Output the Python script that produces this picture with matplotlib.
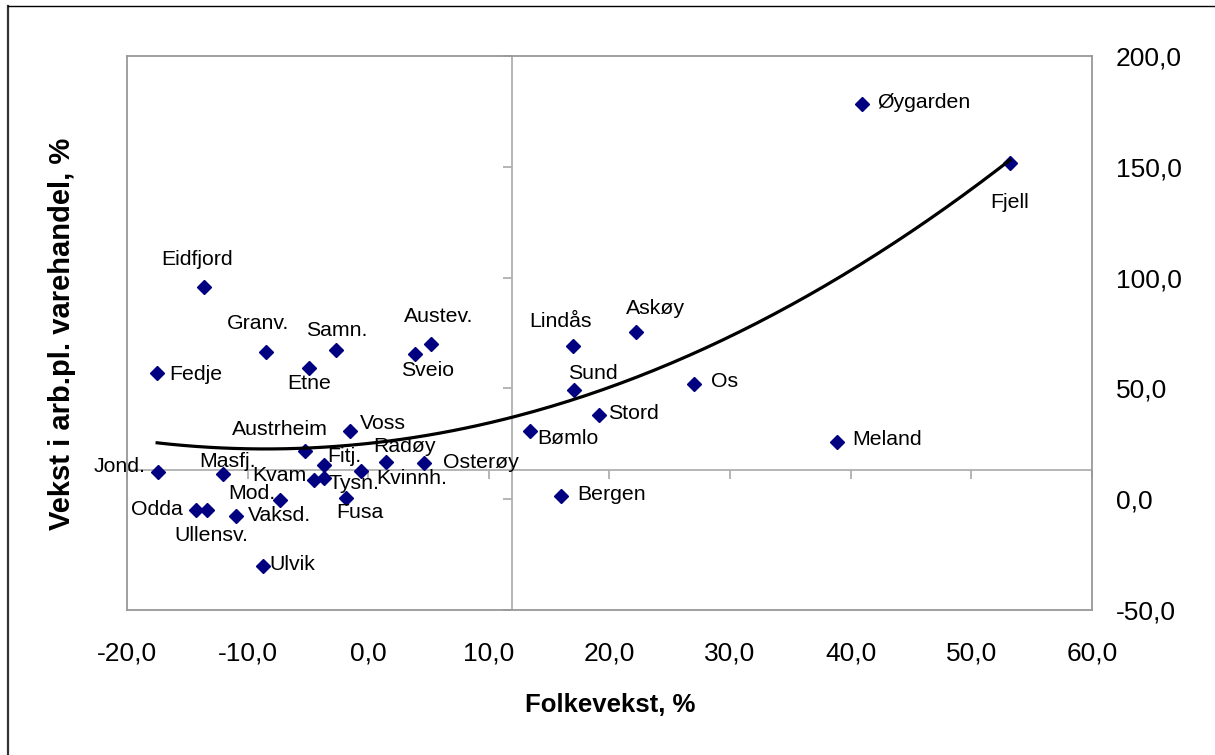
import numpy as np
import matplotlib
matplotlib.use('Agg')
import matplotlib.pyplot as plt
from matplotlib.lines import Line2D

plt.rcParams['font.family'] = ['Liberation Sans', 'DejaVu Sans']

# kommune, folkevekst (%), vekst i arb.pl. varehandel (%)
kommuner = ['Øygarden', 'Fjell', 'Eidfjord', 'Granv.', 'Samn.', 'Austev.', 'Sveio',
            'Etne', 'Fedje', 'Lindås', 'Askøy', 'Sund', 'Os', 'Stord', 'Bømlo',
            'Meland', 'Bergen', 'Voss', 'Austrheim', 'Fitj.', 'Radøy', 'Osterøy',
            'Kvinnh.', 'Jond.', 'Masfj.', 'Kvam', 'Tysn.', 'Mod.', 'Fusa', 'Odda',
            'Ullensv.', 'Vaksd.', 'Ulvik']
folkevekst = [40.9, 53.2, -13.6, -8.5, -2.7, 5.2, 3.9,
              -4.9, -17.5, 17.0, 22.2, 17.1, 27.0, 19.1, 13.4,
              38.9, 16.0, -1.5, -5.2, -3.7, 1.5, 4.6,
              -0.6, -17.4, -12.0, -4.5, -3.7, -7.3, -1.8, -14.3,
              -13.4, -11.0, -8.7]
varehandel = [178.1, 151.9, 95.8, 66.5, 67.4, 70.1, 65.7,
              59.2, 56.8, 69.2, 75.5, 49.3, 52.0, 38.0, 30.7,
              25.8, 1.4, 30.9, 21.7, 15.4, 16.9, 16.1,
              12.8, 12.2, 11.3, 8.7, 9.5, -0.3, 0.5, -5.0,
              -5.0, -7.5, -30.2]

x_ticks = [-20, -10, 0, 10, 20, 30, 40, 50, 60]
y_ticks = [-50, 0, 50, 100, 150, 200]
x_cross = 11.9   # where the vertical axis crosses
y_cross = 13.3   # where the horizontal axis crosses

# label placement in pixels from the point: (dx, dy, ha)
label_pos = {
    'Øygarden': (16, 2, 'left'), 'Fjell': (0, -40, 'center'),
    'Eidfjord': (-7, 27, 'center'), 'Granv.': (-8, 28, 'center'),
    'Samn.': (1, 19, 'center'), 'Austev.': (8, 27, 'center'),
    'Sveio': (12, -17, 'center'), 'Etne': (0, -16, 'center'),
    'Fedje': (12, -1, 'left'), 'Lindås': (-13, 24, 'center'),
    'Askøy': (19, 23, 'center'), 'Sund': (18, 16, 'center'),
    'Os': (17, 2, 'left'), 'Stord': (9, 1, 'left'),
    'Bømlo': (7, -7, 'left'), 'Meland': (15, 2, 'left'),
    'Bergen': (16, 2, 'left'), 'Voss': (10, 7, 'left'),
    'Austrheim': (-26, 22, 'center'), 'Fitj.': (4, 9, 'left'),
    'Radøy': (18, 15, 'center'), 'Osterøy': (19, 1, 'left'),
    'Kvinnh.': (15, -8, 'left'), 'Jond.': (-13, 6, 'right'),
    'Masfj.': (4, 13, 'center'), 'Kvam': (-7, 4, 'right'),
    'Tysn.': (5, -5, 'left'), 'Mod.': (-5, 6, 'right'),
    'Fusa': (13, -14, 'center'), 'Odda': (-13, 1, 'right'),
    'Ullensv.': (5, -25, 'center'), 'Vaksd.': (12, 0, 'left'),
    'Ulvik': (6, 2, 'left'),
}

fig = plt.figure(figsize=(12.15, 7.55), dpi=100)
ax = fig.add_axes([0.1045, 0.1921, 0.7942, 0.7338])
ax.set_xlim(-20, 60)
ax.set_ylim(-50, 200)

ax.set_xticks(x_ticks)
ax.set_xticklabels([f'{v:.1f}'.replace('.', ',') for v in x_ticks])
ax.set_yticks(y_ticks)
ax.set_yticklabels([f'{v:.1f}'.replace('.', ',') for v in y_ticks])
ax.yaxis.tick_right()
ax.tick_params(length=0, labelsize=19)
ax.tick_params(axis='x', pad=23)
ax.tick_params(axis='y', pad=17)
for s in ax.spines.values():
    s.set_color('#999999')
    s.set_linewidth(1.3)

# crossing axes with their tick marks
axis_col = '#b0b0b0'
ax.axvline(x_cross, color=axis_col, lw=1.3, zorder=1)
ax.axhline(y_cross, color=axis_col, lw=1.3, zorder=1)
ax.plot([x_cross] * len(y_ticks), y_ticks, ls='none', marker=0, ms=6.5,
        mec=axis_col, mew=1.3, zorder=1, clip_on=False)
ax.plot(x_ticks, [y_cross] * len(x_ticks), ls='none', marker=3, ms=6.5,
        mec=axis_col, mew=1.3, zorder=1, clip_on=False)

ax.plot(folkevekst, varehandel, ls='none', marker='D', ms=6.8,
        color='#000080', zorder=3)

# polynomial trendline (order 2) as in the spreadsheet
coef = np.polyfit(folkevekst, varehandel, 2)
xs = np.linspace(min(folkevekst), max(folkevekst), 200)
ax.plot(xs, np.polyval(coef, xs), color='black', lw=2.3, zorder=4)

for name, x, y in zip(kommuner, folkevekst, varehandel):
    dx, dy, ha = label_pos[name]
    ax.annotate(name, (x, y), xytext=(dx, dy), textcoords='offset pixels',
                ha=ha, va='center', fontsize=15.3, zorder=5)

fig.text(610 / 1215, 1 - 712 / 755, 'Folkevekst, %', fontsize=18.5,
         fontweight='bold', ha='center', va='baseline')
fig.text(62 / 1215, 1 - 334 / 755, 'Vekst i arb.pl. varehandel, %', fontsize=21,
         fontweight='bold', rotation=90, ha='center', va='center')

# outer chart frame (only left and top visible in the crop)
fig.add_artist(Line2D([8 / 1215, 8 / 1215], [0, 1 - 6 / 755],
                      transform=fig.transFigure, color='#333333', lw=1.6))
fig.add_artist(Line2D([8 / 1215, 1], [1 - 6 / 755, 1 - 6 / 755],
                      transform=fig.transFigure, color='black', lw=1))

fig.savefig('out.png', dpi=100)
